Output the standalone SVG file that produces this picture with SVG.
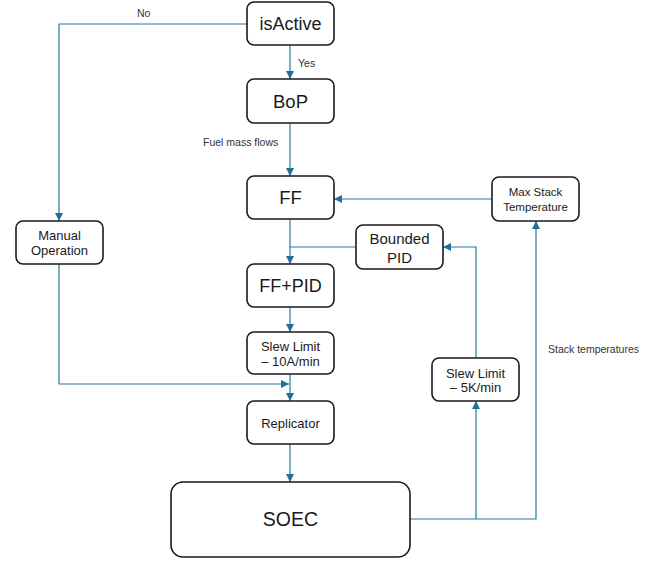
<svg xmlns="http://www.w3.org/2000/svg" width="656" height="562" viewBox="0 0 656 562">
<style>
.box{fill:#fff;stroke:#1a1a1a;stroke-width:1.6}
.t{font-family:"Liberation Sans",Arial,sans-serif;fill:#1a1a1a;text-anchor:middle}
.l{font-family:"Liberation Sans",Arial,sans-serif;fill:#333;font-size:10.5px}
.c{fill:none;stroke:#2479a0;stroke-width:1.2}
</style>
<defs>
<marker id="ah" viewBox="0 0 8 8" refX="8" refY="4" markerWidth="8" markerHeight="8" markerUnits="userSpaceOnUse" orient="auto">
<path d="M0,0 L8,4 L0,8 Z" fill="#1f6f96"/>
</marker>
</defs>
<rect width="656" height="562" fill="#fff"/>
<g id="connectors">
<path class="c" d="M290,45 V79" marker-end="url(#ah)"/>
<path class="c" d="M290,123 V176" marker-end="url(#ah)"/>
<path class="c" d="M247,24 H59 V221" marker-end="url(#ah)"/>
<path class="c" d="M290,219 V264" marker-end="url(#ah)"/>
<path class="c" d="M356,247 H290"/>
<path class="c" d="M290,307 V332" marker-end="url(#ah)"/>
<path class="c" d="M290,374 V401" marker-end="url(#ah)"/>
<path class="c" d="M59,264 V384 H289" marker-end="url(#ah)"/>
<path class="c" d="M290,444 V482" marker-end="url(#ah)"/>
<path class="c" d="M410,519 H536 V221" marker-end="url(#ah)"/>
<path class="c" d="M476,519 V401" marker-end="url(#ah)"/>
<path class="c" d="M476,358 V247 H443" marker-end="url(#ah)"/>
<path class="c" d="M492,199 H334" marker-end="url(#ah)"/>
<text class="l" x="137" y="17">No</text>
<text class="l" x="298" y="67">Yes</text>
<text class="l" x="203" y="146">Fuel mass flows</text>
<text class="l" x="548" y="353">Stack temperatures</text>
</g>
<g id="isActive"><rect class="box" x="247" y="2" width="87" height="43" rx="7"/><text class="t" x="290.5" y="30" font-size="18">isActive</text></g>
<g id="BoP"><rect class="box" x="247" y="79" width="87" height="44" rx="7"/><text class="t" x="290.5" y="107.5" font-size="18.5">BoP</text></g>
<g id="FF"><rect class="box" x="247" y="176" width="87" height="43" rx="7"/><text class="t" x="290.5" y="204" font-size="18.5">FF</text></g>
<g id="ManualOperation"><rect class="box" x="16" y="221" width="87" height="43" rx="7"/><text class="t" x="59.5" y="240" font-size="13">Manual</text><text class="t" x="59.5" y="255" font-size="13">Operation</text></g>
<g id="BoundedPID"><rect class="box" x="356" y="225" width="87" height="44" rx="7"/><text class="t" x="399.5" y="243.5" font-size="15">Bounded</text><text class="t" x="399.5" y="262.5" font-size="15">PID</text></g>
<g id="MaxStackTemperature"><rect class="box" x="492" y="177" width="87" height="44" rx="7"/><text class="t" x="535.5" y="196" font-size="11.5">Max Stack</text><text class="t" x="535.5" y="211" font-size="11.5">Temperature</text></g>
<g id="FFPID"><rect class="box" x="247" y="264" width="87" height="43" rx="7"/><text class="t" x="290.5" y="292" font-size="18">FF+PID</text></g>
<g id="SlewLimit10A"><rect class="box" x="247" y="332" width="87" height="42" rx="7"/><text class="t" x="290.5" y="350.5" font-size="13">Slew Limit</text><text class="t" x="290.5" y="366" font-size="13">– 10A/min</text></g>
<g id="SlewLimit5K"><rect class="box" x="432" y="358" width="87" height="43" rx="7"/><text class="t" x="475.5" y="377.5" font-size="13">Slew Limit</text><text class="t" x="475.5" y="392" font-size="13">– 5K/min</text></g>
<g id="Replicator"><rect class="box" x="247" y="401" width="87" height="43" rx="7"/><text class="t" x="290.5" y="428" font-size="13">Replicator</text></g>
<g id="SOEC"><rect class="box" x="171" y="482" width="239" height="75" rx="12"/><text class="t" x="290.5" y="526" font-size="19.5">SOEC</text></g>
</svg>
